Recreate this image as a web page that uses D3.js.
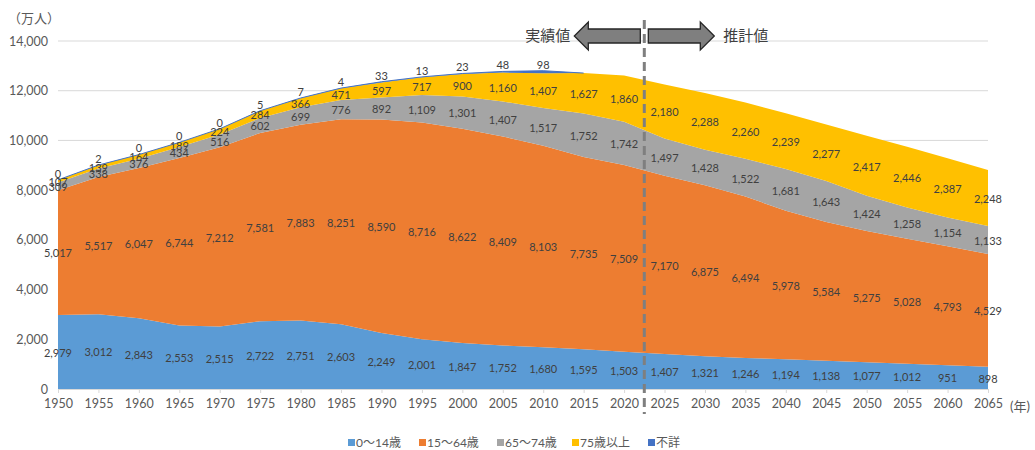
<!DOCTYPE html>
<html><head><meta charset="utf-8">
<script src="https://cdn.jsdelivr.net/npm/d3@7"></script>
<style>
html,body{margin:0;padding:0;background:#fff;}
svg{display:block;font-family:Lato,"Noto Sans CJK JP",sans-serif;}
</style></head>
<body><svg id="c" width="1035" height="450"></svg>
<script>
const years = [1950,1955,1960,1965,1970,1975,1980,1985,1990,1995,2000,2005,2010,2015,2020,2025,2030,2035,2040,2045,2050,2055,2060,2065];
const age0_14 = [2979,3012,2843,2553,2515,2722,2751,2603,2249,2001,1847,1752,1680,1595,1503,1407,1321,1246,1194,1138,1077,1012,951,898];
const age15_64 = [5017,5517,6047,6744,7212,7581,7883,8251,8590,8716,8622,8409,8103,7735,7509,7170,6875,6494,5978,5584,5275,5028,4793,4529];
const age65_74 = [309,338,376,434,516,602,699,776,892,1109,1301,1407,1517,1752,1742,1497,1428,1522,1681,1643,1424,1258,1154,1133];
const age75 = [107,139,164,189,224,284,366,471,597,717,900,1160,1407,1627,1860,2180,2288,2260,2239,2277,2417,2446,2387,2248];
const unknown = [0,2,0,0,0,5,7,4,33,13,23,48,98,null,null,null,null,null,null,null,null,null,null,null];
const yTicks = [0,2000,4000,6000,8000,10000,12000,14000];
const seriesNames = ["0～14歳","15～64歳","65～74歳","75歳以上","不詳"];
const seriesColors = ["#5b9bd5","#ed7d31","#a5a5a5","#ffc000","#4472c4"];
const splitYear = 2022.5;

const svg = d3.select("#c");
const x = d3.scaleLinear().domain([1950,2065]).range([58,988]);
const y = d3.scaleLinear().domain([0,14000]).range([389,41]);
const fmt = d3.format(",");

const seriesArrays = [age0_14, age15_64, age65_74, age75, unknown];
const rows = years.map((yr,i)=>{
  const r = {year:yr};
  seriesNames.forEach((n,k)=>{ r[n] = seriesArrays[k][i] == null ? 0 : seriesArrays[k][i]; });
  return r;
});
const stack = d3.stack().keys(seriesNames);
const layers = stack(rows);

// gridlines
svg.append("g").selectAll("line").data(yTicks.filter(d=>d>0)).join("line")
  .attr("x1",x(1950)).attr("x2",x(2065))
  .attr("y1",d=>y(d)).attr("y2",d=>y(d))
  .attr("stroke","#d9d9d9").attr("stroke-width",1);

// areas
const area = d3.area().x((d,i)=>x(years[i])).y0(d=>y(d[0])).y1(d=>y(d[1]));
svg.append("g").selectAll("path").data(layers).join("path")
  .attr("d",area).attr("fill",(d,i)=>seriesColors[i]);
// thin 不詳 line
const unkLayer = layers[4];
svg.append("path")
  .datum(unkLayer.map((d,i)=>({d,i})).filter(o=>o.i<=13))
  .attr("d",d3.line().x(o=>x(years[o.i])).y(o=>y(o.d[1])))
  .attr("fill","none").attr("stroke","#4472c4").attr("stroke-width",1);

// x axis
const xAxis = d3.axisBottom(x).tickValues(years).tickFormat(d=>d).tickSize(4).tickPadding(6);
const gx = svg.append("g").attr("transform",`translate(0,${y(0)})`).call(xAxis);
gx.select(".domain").attr("stroke","#d9d9d9");
gx.selectAll(".tick line").attr("stroke","#d9d9d9");
gx.selectAll("text").attr("fill","#595959").attr("font-size",12.5).attr("font-family","Lato,'Noto Sans CJK JP',sans-serif");

// y axis
const yAxis = d3.axisLeft(y).tickValues(yTicks).tickFormat(fmt).tickSize(0).tickPadding(10);
const gy = svg.append("g").attr("transform",`translate(${x(1950)},0)`).call(yAxis);
gy.select(".domain").remove();
gy.selectAll("text").attr("fill","#595959").attr("font-size",12.5).attr("font-family","Lato,'Noto Sans CJK JP',sans-serif");

svg.append("text").attr("x",8).attr("y",23).attr("fill","#595959").attr("font-size",13).text("（万人）");
svg.append("text").attr("x",1010).attr("y",411).attr("fill","#595959").attr("font-size",13).text("(年)");

// data labels
const lg = svg.append("g").attr("font-size",11).attr("fill","#404040").attr("text-anchor","middle");
layers.forEach((layer,k)=>{
  layer.forEach((d,i)=>{
    const v = seriesArrays[k][i];
    if (v == null) return;
    let yy = k===4 ? y(d[1]) - 6 : y((d[0]+d[1])/2) + 1;
    lg.append("text").attr("x",x(years[i])).attr("y",yy).attr("dy","0.35em").text(fmt(v));
  });
});

// dashed split line
svg.append("line").attr("x1",x(splitYear)).attr("x2",x(splitYear))
  .attr("y1",20).attr("y2",414)
  .attr("stroke","#7f7f7f").attr("stroke-width",3).attr("stroke-dasharray","9,5");

// arrows
const ax = x(splitYear);
const cy = 36;
function arrow(x0, x1, dir){
  const headLen = 14*dir;
  const pts = [[x0,cy-7],[x1-headLen,cy-7],[x1-headLen,cy-14],[x1,cy],[x1-headLen,cy+14],[x1-headLen,cy+7],[x0,cy+7]];
  svg.append("polygon").attr("points",pts.map(p=>p.join(",")).join(" "))
    .attr("fill","#7f7f7f").attr("stroke","#262626").attr("stroke-width",1.3);
}
arrow(ax-4, ax-70, -1);
arrow(ax+4, ax+70, 1);
svg.append("text").attr("x",ax-74).attr("y",cy).attr("dy","0.35em").attr("text-anchor","end")
  .attr("font-size",15).attr("fill","#404040").text("実績値");
svg.append("text").attr("x",ax+79).attr("y",cy).attr("dy","0.35em").attr("text-anchor","start")
  .attr("font-size",15).attr("fill","#404040").text("推計値");

// legend
const legX = [348,419,497,572,648];
const leg = svg.append("g");
seriesNames.forEach((n,k)=>{
  leg.append("rect").attr("x",legX[k]).attr("y",439).attr("width",7).attr("height",7).attr("fill",seriesColors[k]);
  leg.append("text").attr("x",legX[k]+8).attr("y",443).attr("dy","0.35em").attr("font-size",12)
    .attr("fill","#595959").text(n);
});
</script></body></html>
